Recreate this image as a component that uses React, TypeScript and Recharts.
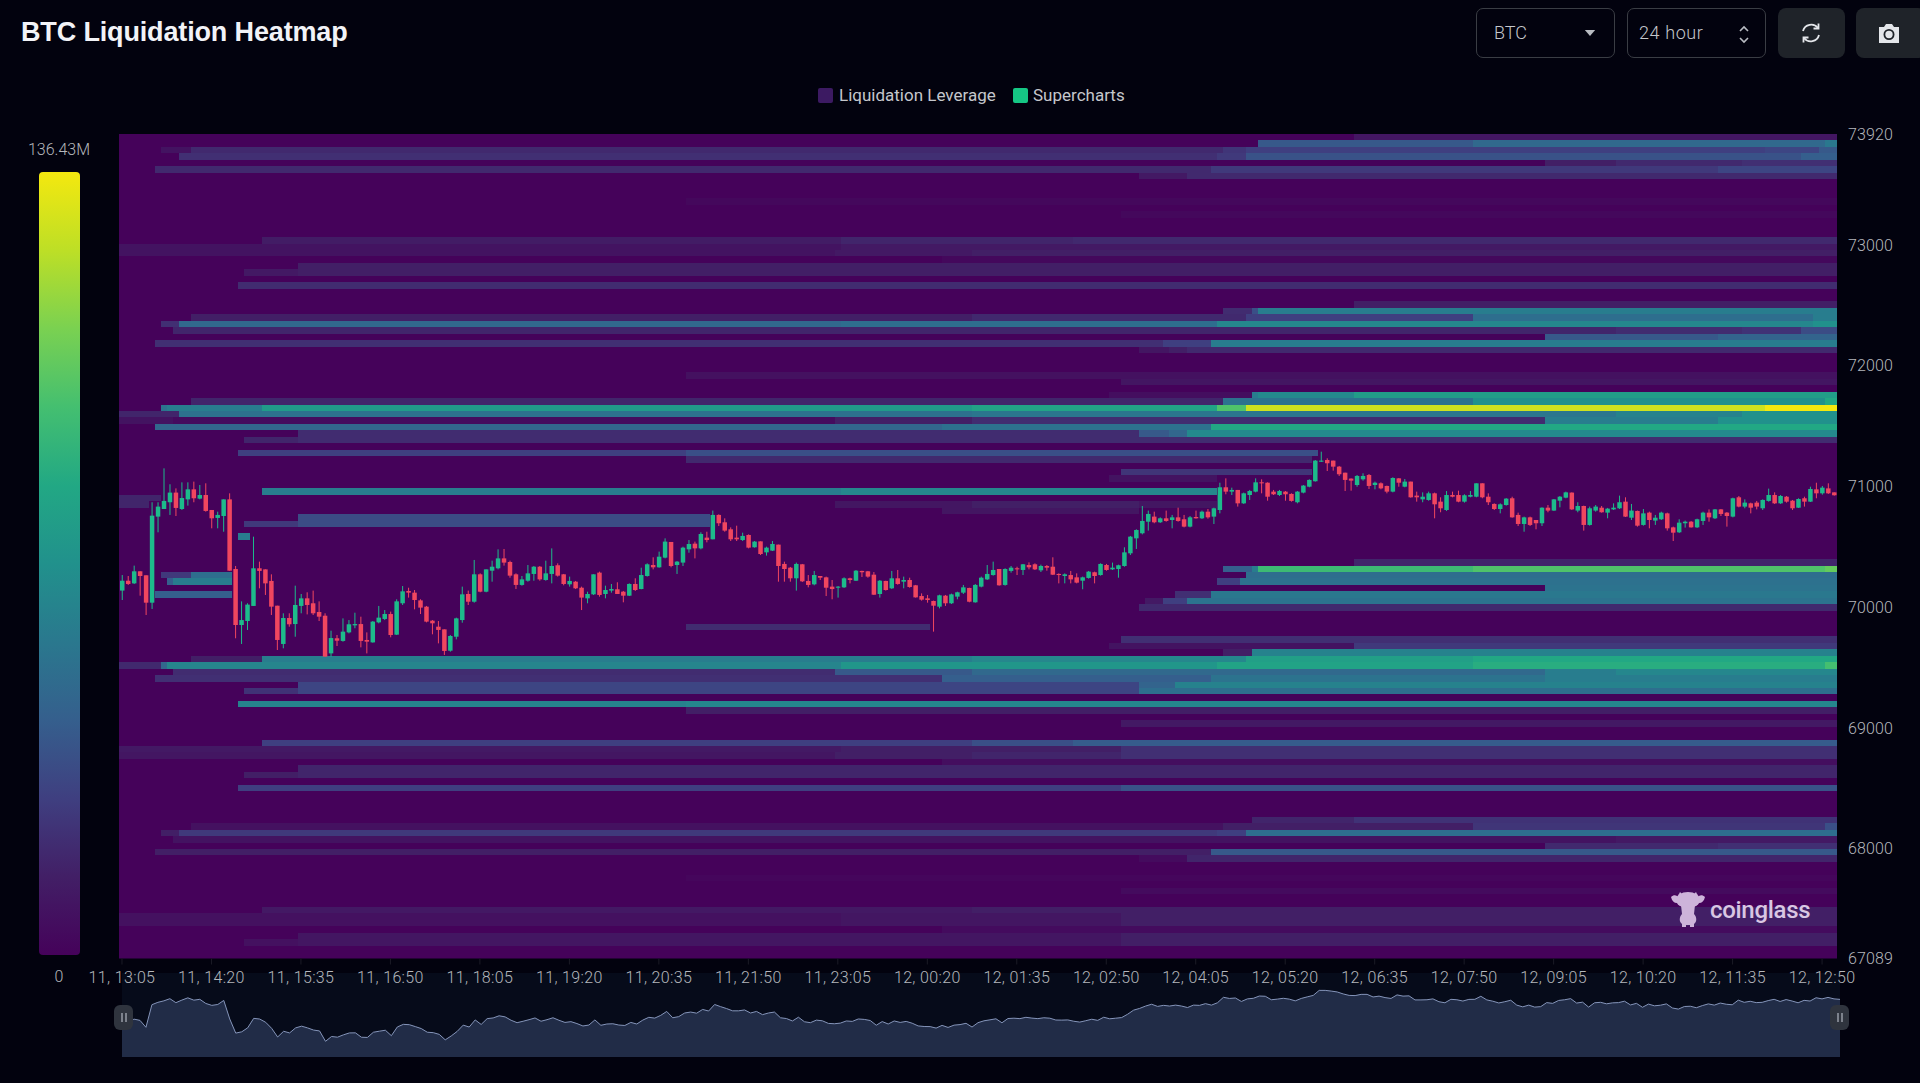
import React from 'react';
import { Area, AreaChart, Bar, ComposedChart, ReferenceArea, XAxis, YAxis } from 'recharts';

const timeLabels = [
  '11, 13:05', '11, 14:20', '11, 15:35', '11, 16:50', '11, 18:05', '11, 19:20', '11, 20:35',
  '11, 21:50', '11, 23:05', '12, 00:20', '12, 01:35', '12, 02:50', '12, 04:05', '12, 05:20',
  '12, 06:35', '12, 07:50', '12, 09:05', '12, 10:20', '12, 11:35', '12, 12:50',
];
const priceTicks = [67089, 68000, 69000, 70000, 71000, 72000, 73000, 73920];
const PRICE_MIN = 67089;
const PRICE_MAX = 73920;
const ROW_SIZE = 53.37;
const PEAK_LABEL = '136.43M';

const opens = [
  70137,70219,70197,70297,70264,70037,70750,70813,70869,70949,
  70813,70893,70976,70899,70929,70805,70739,70755,70893,70316,
  69852,69885,70010,70322,70313,70217,70012,69695,69910,69860,
  70010,70073,70032,69960,69929,69617,69742,69720,69791,69849,
  69860,69728,69708,69874,69902,69943,69772,70032,70134,70120,
  70056,70004,69888,69838,69816,69639,69755,69893,70109,70045,
  70272,70128,70302,70322,70404,70374,70272,70184,70219,70275,
  70335,70225,70275,70347,70272,70189,70211,70161,70073,70106,
  70286,70109,70137,70148,70128,70095,70192,70150,70258,70349,
  70330,70410,70540,70349,70369,70479,70526,70487,70576,70562,
  70764,70703,70645,70576,70556,70598,70496,70545,70454,70468,
  70518,70358,70327,70239,70355,70217,70189,70258,70247,70170,
  70161,70164,70239,70219,70300,70297,70269,70109,70217,70156,
  70239,70211,70225,70181,70092,70073,70051,70004,70095,70032,
  70087,70120,70159,70040,70170,70230,70266,70316,70184,70300,
  70322,70308,70349,70355,70305,70341,70335,70275,70258,70266,
  70247,70219,70242,70289,70266,70349,70313,70316,70341,70446,
  70570,70612,70708,70750,70703,70736,70722,70744,70728,70667,
  70747,70736,70791,70750,70805,70993,70957,70971,70860,70929,
  70957,71034,71031,70957,70929,70957,70938,70869,70949,70998,
  71043,71205,71219,71214,71164,71114,71065,71012,71059,71095,
  71012,71026,71004,70957,71067,70998,71040,70924,70893,70888,
  70943,70874,70805,70929,70929,70874,70915,70915,71026,70915,
  70855,70813,70846,70902,70764,70689,70744,70722,70695,70824,
  70800,70882,70907,70949,70800,70838,70681,70800,70824,70783,
  70810,70819,70874,70741,70797,70681,70783,70717,70728,70777,
  70661,70620,70695,70708,70661,70714,70783,70736,70810,70783,
  70750,70910,70833,70860,70866,70819,70880,70929,70860,70915,
  70882,70824,70902,70874,70976,70943,70984,70951,
];
const closes = [
  70219,70192,70297,70258,70037,70758,70833,70880,70949,70822,
  70904,70976,70902,70929,70797,70736,70764,70893,70302,69852,
  69893,70021,70322,70300,70197,70004,69728,69910,69858,70018,
  70073,70018,69949,69921,69590,69744,69722,69797,69858,69860,
  69720,69714,69880,69913,69943,69769,70048,70131,70120,70059,
  69996,69880,69866,69811,69637,69761,69907,70106,70045,70272,
  70128,70313,70335,70404,70369,70261,70184,70230,70280,70335,
  70230,70280,70341,70261,70192,70217,70156,70079,70109,70272,
  70101,70142,70150,70109,70095,70192,70142,70266,70355,70330,
  70418,70543,70341,70377,70493,70523,70487,70606,70556,70764,
  70695,70634,70562,70562,70590,70493,70543,70440,70493,70523,
  70341,70316,70239,70358,70214,70184,70266,70244,70161,70150,
  70170,70239,70225,70302,70289,70253,70103,70219,70142,70239,
  70192,70225,70167,70081,70062,70059,70012,70098,70032,70106,
  70123,70164,70045,70184,70244,70275,70308,70181,70316,70327,
  70313,70355,70330,70313,70341,70327,70269,70266,70272,70230,
  70203,70247,70294,70258,70358,70308,70327,70347,70454,70584,
  70639,70714,70772,70703,70736,70714,70744,70714,70667,70744,
  70736,70791,70744,70819,70993,70957,70971,70860,70943,70962,
  71034,71026,70915,70935,70962,70935,70880,70957,71007,71054,
  71214,71214,71192,71164,71101,71054,71048,71087,71087,71004,
  71031,70984,70957,71070,71031,71040,70910,70910,70915,70943,
  70852,70819,70929,70915,70874,70927,70929,71026,70910,70869,
  70813,70852,70899,70744,70689,70744,70681,70695,70824,70800,
  70893,70915,70951,70810,70838,70681,70819,70833,70786,70816,
  70824,70869,70750,70800,70675,70777,70722,70741,70783,70653,
  70617,70700,70708,70661,70728,70783,70744,70810,70772,70755,
  70902,70833,70866,70824,70833,70888,70929,70860,70921,70874,
  70819,70896,70874,70979,70943,70990,70943,70927,
];
const highs = [
  70266,70258,70344,70297,70264,70869,70869,71150,71018,70984,
  71034,71034,71040,71012,71026,70805,70791,70893,70943,70341,
  70048,70032,70584,70377,70313,70272,70012,69949,69949,70178,
  70109,70123,70137,70048,69949,69805,69769,69907,69893,69954,
  69921,69791,69885,70010,69976,69963,70065,70175,70161,70142,
  70065,70010,69893,69885,69816,69769,69913,70170,70137,70391,
  70280,70313,70385,70479,70482,70385,70280,70258,70349,70341,
  70341,70385,70487,70363,70275,70253,70217,70170,70128,70272,
  70294,70178,70192,70206,70134,70197,70239,70327,70363,70413,
  70460,70570,70540,70382,70501,70556,70543,70620,70625,70800,
  70769,70736,70661,70675,70617,70603,70548,70545,70501,70548,
  70518,70377,70333,70369,70358,70266,70300,70258,70253,70225,
  70175,70247,70244,70308,70302,70300,70291,70225,70219,70300,
  70308,70253,70244,70184,70114,70101,70054,70103,70101,70112,
  70128,70184,70161,70192,70253,70349,70377,70316,70322,70341,
  70335,70358,70371,70363,70352,70349,70413,70280,70280,70300,
  70280,70253,70300,70294,70363,70358,70369,70352,70496,70590,
  70645,70838,70800,70791,70744,70800,70764,70824,70764,70755,
  70800,70800,70813,70824,71031,71067,70990,70971,70949,70971,
  71067,71059,71034,70971,70971,70962,70943,70962,71012,71059,
  71219,71288,71233,71214,71170,71114,71067,71095,71109,71103,
  71040,71034,71007,71076,71070,71062,71040,70957,70951,70957,
  70949,70910,70962,70957,70965,70935,70962,71026,71026,70943,
  70860,70860,70904,70915,70783,70750,70750,70722,70827,70846,
  70896,70921,70957,70951,70869,70841,70833,70846,70838,70822,
  70860,70924,70910,70855,70800,70813,70791,70764,70791,70783,
  70667,70728,70717,70714,70733,70791,70810,70813,70813,70788,
  70907,70921,70893,70866,70880,70893,70982,70951,70929,70921,
  70888,70902,70915,70998,71031,71004,71026,70951,
];
const lows = [
  70059,70184,70192,70095,69935,69985,70620,70813,70764,70755,
  70805,70841,70869,70893,70791,70653,70653,70625,70302,69742,
  69695,69811,70010,70156,70101,69935,69645,69659,69838,69755,
  69949,69940,69935,69885,69590,69590,69678,69714,69783,69825,
  69667,69617,69706,69866,69893,69750,69769,70018,70079,69982,
  69943,69874,69775,69700,69604,69631,69733,69871,70018,70037,
  70123,70123,70211,70313,70344,70244,70150,70178,70211,70219,
  70219,70219,70197,70253,70181,70170,70150,69976,70032,70101,
  70087,70073,70120,70109,70040,70092,70134,70148,70253,70313,
  70327,70404,70330,70275,70341,70451,70404,70479,70537,70562,
  70672,70625,70548,70548,70548,70487,70493,70432,70427,70465,
  70211,70211,70211,70137,70208,70164,70181,70225,70092,70065,
  70079,70159,70197,70217,70250,70244,70101,70079,70137,70150,
  70186,70156,70161,70079,70054,70037,69797,69990,70010,70026,
  70065,70109,70040,70037,70164,70225,70261,70178,70178,70286,
  70266,70266,70313,70308,70291,70302,70266,70197,70197,70197,
  70197,70148,70236,70197,70261,70302,70308,70244,70335,70432,
  70482,70603,70634,70695,70697,70708,70653,70708,70661,70661,
  70733,70730,70733,70689,70777,70935,70929,70833,70855,70888,
  70951,70943,70882,70929,70921,70882,70874,70860,70943,70993,
  71040,71203,71128,71131,71087,70962,70965,70998,71048,70979,
  70976,70976,70943,70951,70998,70993,70907,70874,70869,70882,
  70736,70786,70797,70910,70869,70866,70910,70910,70902,70846,
  70805,70777,70841,70741,70672,70625,70672,70645,70672,70786,
  70797,70827,70902,70805,70786,70634,70675,70791,70783,70736,
  70805,70813,70747,70722,70667,70675,70653,70681,70722,70634,
  70548,70614,70659,70659,70656,70681,70708,70730,70755,70667,
  70744,70827,70819,70777,70810,70805,70874,70855,70855,70866,
  70805,70822,70833,70871,70902,70932,70938,70924,
];

// heat rows counted from the top: [row, candle where a step starts, share of peak, ...]; share 0 ends the band
type HeatRow = number[];
const upperBands: HeatRow[] = [
  [0, 207, 0.07],
  [1, 191, 0.28, 227, 0.34, 286, 0.4],
  [2, 7, 0.06, 12, 0.13, 185, 0.17, 189, 0.2, 276, 0.22, 285, 0.28],
  [3, 10, 0.15, 184, 0.18, 189, 0.26, 282, 0.3],
  [4, 239, 0.1, 251, 0.13, 272, 0.15],
  [5, 6, 0.13, 183, 0.18, 268, 0.22],
  [6, 171, 0.08, 179, 0.13],
  [10, 95, 0.02],
  [12, 168, 0.02],
  [16, 24, 0.09, 121, 0.12, 160, 0.13],
  [17, 0, 0.06, 121, 0.08],
  [18, 0, 0.06, 120, 0.08, 143, 0.1],
  [19, 138, 0.02],
  [20, 30, 0.1],
  [21, 21, 0.08, 30, 0.1],
  [23, 20, 0.14],
  [26, 207, 0.1],
  [27, 185, 0.14, 190, 0.25, 191, 0.42],
  [28, 12, 0.1, 143, 0.13, 189, 0.2, 227, 0.36, 284, 0.42],
  [29, 7, 0.15, 10, 0.34, 121, 0.36, 184, 0.46, 284, 0.5],
  [30, 9, 0.12, 251, 0.14, 272, 0.16, 282, 0.24],
  [31, 239, 0.28, 268, 0.32],
  [32, 6, 0.15, 175, 0.2, 183, 0.42],
  [33, 171, 0.07, 176, 0.1, 179, 0.13],
  [37, 95, 0.05],
  [38, 168, 0.07],
  [40, 166, 0.04, 190, 0.42, 191, 0.47, 207, 0.55],
  [41, 12, 0.12, 185, 0.38, 227, 0.5, 286, 0.6],
  [42, 7, 0.38, 8, 0.42, 24, 0.54, 143, 0.58, 184, 0.72, 189, 0.93, 276, 1],
  [43, 0, 0.12, 10, 0.37, 143, 0.39, 251, 0.44, 272, 0.5],
  [44, 0, 0.06, 9, 0.03, 120, 0.1, 143, 0.14, 239, 0.42, 268, 0.5],
  [45, 6, 0.33, 138, 0.37, 183, 0.6],
  [46, 30, 0.14, 171, 0.28, 176, 0.33, 179, 0.47],
  [47, 21, 0.12, 30, 0.14],
];
const middleBands: HeatRow[] = [
  [49, 20, 0.2, 95, 0.25, 201, 0],
  [50, 95, 0.13, 200, 0],
  [52, 168, 0.17, 200, 0],
  [53, 166, 0.06, 184, 0],
  [55, 24, 0.42, 121, 0.46, 184, 0],
  [56, 0, 0.12, 7, 0],
  [57, 0, 0.12, 5, 0, 120, 0.07, 143, 0.1, 171, 0.07, 184, 0],
  [58, 138, 0.07, 171, 0],
  [59, 30, 0.24, 99, 0],
  [60, 21, 0.18, 30, 0.24, 99, 0],
  [62, 20, 0.42, 22, 0],
  [66, 207, 0.12],
  [67, 185, 0.3, 190, 0.42, 191, 0.68, 227, 0.72, 286, 0.76],
  [68, 7, 0.18, 12, 0.36, 19, 0, 189, 0.36],
  [69, 8, 0.3, 9, 0.42, 19, 0, 184, 0.2, 188, 0.37],
  [70, 239, 0.38],
  [71, 6, 0.3, 19, 0, 177, 0.15, 183, 0.4],
  [72, 172, 0.08, 175, 0.2, 179, 0.38],
  [73, 171, 0.13],
  [76, 95, 0.14, 136, 0],
  [78, 168, 0.15],
  [79, 166, 0.06, 207, 0.18],
  [80, 185, 0.1, 190, 0.44],
  [81, 12, 0.1, 24, 0.42, 143, 0.46, 189, 0.56, 227, 0.6],
  [82, 0, 0.13, 7, 0.33, 8, 0.45, 121, 0.52, 184, 0.58, 227, 0.62, 286, 0.7],
  [83, 9, 0.14, 120, 0.28, 143, 0.34, 239, 0.42, 251, 0.46],
  [84, 6, 0.15, 138, 0.3, 183, 0.38, 239, 0.42],
  [85, 30, 0.22, 171, 0.32, 177, 0.44],
  [86, 21, 0.16, 30, 0.22, 171, 0.36],
  [88, 20, 0.44, 95, 0.46],
  [89, 95, 0.1],
];
const lowerBands: HeatRow[] = [
  [91, 168, 0.08],
  [94, 24, 0.2, 143, 0.25, 160, 0.29],
  [95, 0, 0.08, 121, 0.1, 168, 0.15],
  [96, 0, 0.07, 120, 0.1, 143, 0.12, 168, 0.15],
  [97, 138, 0.04],
  [98, 30, 0.12],
  [99, 21, 0.1, 30, 0.12],
  [101, 20, 0.2, 168, 0.26],
  [106, 190, 0.12, 207, 0.16],
  [107, 12, 0.05, 185, 0.1, 227, 0.17, 286, 0.25],
  [108, 7, 0.1, 10, 0.18, 184, 0.2, 189, 0.36],
  [109, 9, 0.06, 251, 0.08],
  [110, 239, 0.13, 268, 0.15],
  [111, 6, 0.1, 183, 0.28],
  [112, 171, 0.03, 179, 0.12],
  [115, 95, 0.015],
  [117, 168, 0.03],
  [120, 24, 0.08, 143, 0.1],
  [121, 0, 0.05, 121, 0.07, 168, 0.1],
  [122, 0, 0.05, 121, 0.07, 168, 0.1],
  [123, 138, 0.03],
  [124, 30, 0.07, 168, 0.1],
  [125, 21, 0.05, 30, 0.07, 168, 0.1],
  [127, 20, 0.13],
];

const viridis = ['#45025a', '#421f66', '#3f3f80', '#355f8d', '#2a788e', '#21918c', '#22a884', '#44bf70', '#7ad151', '#bddf26', '#f4e80f'];
const UP = '#1dbb8b';
const DOWN = '#f0465f';
const TEXT = '#b4b7bc';
const FONT = 'Roboto, sans-serif';

function heatColor(share: number) {
  const pos = share * (viridis.length - 1);
  const i = Math.min(Math.floor(pos), viridis.length - 2);
  const mix = pos - i;
  const a = viridis[i];
  const b = viridis[i + 1];
  const ch = (s: string, k: number) => parseInt(s.slice(1 + k * 2, 3 + k * 2), 16);
  const c = [0, 1, 2].map((k) => Math.round(ch(a, k) + (ch(b, k) - ch(a, k)) * mix));
  return `rgb(${c[0]},${c[1]},${c[2]})`;
}

const candleData = opens.map((open, i) => ({
  i,
  open,
  close: closes[i],
  high: highs[i],
  low: lows[i],
  range: [lows[i], highs[i]],
}));

const xTicks = timeLabels.map((_, i) => i * 15);
const rowTicks = [4, 8, 12, 16, 20, 24, 28, 32, 36, 40, 44, 48, 52, 56, 60, 64, 68, 72, 76, 80, 84, 88, 92, 96, 100, 104, 108, 112, 116, 120, 124].map(
  (r) => PRICE_MAX - r * ROW_SIZE,
);

const heatCells = [...upperBands, ...middleBands, ...lowerBands].flatMap((band) => {
  const top = PRICE_MAX - band[0] * ROW_SIZE;
  const cells = [];
  for (let k = 1; k < band.length; k += 2) {
    if (band[k + 1] === 0) continue;
    const end = k + 2 < band.length ? band[k + 2] : 288;
    cells.push({ key: `${band[0]}-${band[k]}`, x1: band[k] - 0.5, x2: end - 0.5, y1: top - ROW_SIZE, y2: top, fill: heatColor(band[k + 1]) });
  }
  return cells;
});

function Candle(props: any) {
  const { x, y, width, height, payload } = props;
  const up = payload.close >= payload.open;
  const color = up ? UP : DOWN;
  const span = payload.high - payload.low || 1;
  const yAt = (v: number) => y + ((payload.high - v) / span) * height;
  const top = yAt(Math.max(payload.open, payload.close));
  const bottom = yAt(Math.min(payload.open, payload.close));
  return (
    <g>
      <rect x={x + width / 2 - 0.5} y={y} width={1} height={height} fill={color} />
      <rect x={x} y={top} width={width} height={Math.max(bottom - top, 1)} fill={color} />
    </g>
  );
}

const abs = (left: number, top: number, width: number, height: number): React.CSSProperties => ({
  position: 'absolute',
  left,
  top,
  width,
  height,
});

function Select({ left, label, pad, spacing, children }: { left: number; label: string; pad: number; spacing: number; children: React.ReactNode }) {
  return (
    <div style={{ ...abs(left, 8, 139, 50), boxSizing: 'border-box', border: '1px solid #3a3d44', borderRadius: 7, color: '#c5c7cc', fontSize: 18, lineHeight: '48px', paddingLeft: pad, letterSpacing: spacing, fontWeight: 300 }}>
      {label}
      {children}
    </div>
  );
}

function Handle({ left }: { left: number }) {
  return (
    <div style={{ ...abs(left, 1005, 19, 25), background: '#2f343e', borderRadius: 6, display: 'flex', justifyContent: 'center', alignItems: 'center', gap: 2 }}>
      <div style={{ width: 2, height: 9, background: '#7d828c' }} />
      <div style={{ width: 2, height: 9, background: '#7d828c' }} />
    </div>
  );
}

export default function App() {
  return (
    <div style={{ position: 'fixed', left: 0, top: 0, width: 1920, height: 1083, background: '#02020e', overflow: 'hidden', fontFamily: FONT }}>
      <div style={{ ...abs(21, 12, 400, 40), fontFamily: '"Liberation Sans", Arial, sans-serif', fontWeight: 700, fontSize: 27, lineHeight: '40px', letterSpacing: -0.15, color: '#f2f3f7' }}>
        BTC Liquidation Heatmap
      </div>

      <Select left={1476} label="BTC" pad={17} spacing={0}>
        <svg style={abs(107, 21, 12, 7)} viewBox="0 0 14 8">
          <path d="M1 0 H13 L7 7 Z" fill="#b9bcc2" />
        </svg>
      </Select>
      <Select left={1627} label="24 hour" pad={11} spacing={0.6}>
        <svg style={abs(110, 16, 12, 19)} viewBox="0 0 12 19" fill="none" stroke="#b9bcc2" strokeWidth="1.6">
          <path d="M2 6 L6 2 L10 6 M2 13 L6 17 L10 13" />
        </svg>
      </Select>
      <div style={{ ...abs(1778, 8, 67, 50), background: '#1f2329', borderRadius: 8 }}>
        <svg style={abs(21, 13, 24, 24)} viewBox="0 0 24 24" fill="none" stroke="#e4e6ea" strokeWidth="1.8">
          <path d="M4 10 A8.5 8.5 0 0 1 19 7 M20 14 A8.5 8.5 0 0 1 5 17" />
          <path d="M19.5 2.5 V7.5 H14.5 M4.5 21.5 V16.5 H9.5" />
        </svg>
      </div>
      <div style={{ ...abs(1856, 8, 70, 50), background: '#1f2329', borderRadius: 8 }}>
        <svg style={abs(21, 13, 24, 24)} viewBox="0 0 24 24">
          <path d="M2 6 H7 L9 3 H15 L17 6 H22 V22 H2 Z" fill="#e4e6ea" />
          <circle cx="12" cy="13.5" r="4.6" fill="none" stroke="#1f2329" strokeWidth="1.8" />
        </svg>
      </div>

      <div style={{ ...abs(818, 86, 320, 20), color: '#c5c7cc', fontSize: 17, lineHeight: '19px' }}>
        <div style={{ ...abs(0, 2, 15, 15), background: '#3c1a62', borderRadius: 2 }} />
        <div style={{ ...abs(21, 0, 170, 19) }}>Liquidation Leverage</div>
        <div style={{ ...abs(195, 2, 15, 15), background: '#15c784', borderRadius: 2 }} />
        <div style={{ ...abs(215, 0, 100, 19) }}>Supercharts</div>
      </div>

      <div style={{ ...abs(9, 140, 100, 20), textAlign: 'center', color: TEXT, fontSize: 16, fontWeight: 300 }}>{PEAK_LABEL}</div>
      <div
        style={{
          ...abs(39, 172, 41, 783),
          borderRadius: 4,
          background: `linear-gradient(to top, ${viridis.join(',')})`,
        }}
      />
      <div style={{ ...abs(9, 967, 100, 20), textAlign: 'center', color: TEXT, fontSize: 16, fontWeight: 300 }}>0</div>

      <div style={{ ...abs(122, 973, 1718, 84), background: '#060b1a' }}>
        <AreaChart width={1718} height={84} data={candleData} margin={{ top: 0, right: 0, bottom: 0, left: 0 }}>
          <XAxis dataKey="i" hide />
          <YAxis hide domain={[69090, 71768]} allowDataOverflow />
          <Area type="linear" dataKey="close" stroke="#8595ba" strokeWidth={1} fill="#212c47" fillOpacity={1} isAnimationActive={false} dot={false} activeDot={false} />
        </AreaChart>
      </div>
      <Handle left={114} />
      <Handle left={1830} />

      <div style={abs(0, 0, 1920, 1000)}>
        <ComposedChart width={1920} height={1000} data={candleData} margin={{ top: 134, right: 0, bottom: 0, left: 0 }}>
          <XAxis
            dataKey="i"
            type="number"
            domain={[-0.5, 287.5]}
            allowDataOverflow
            ticks={xTicks}
            interval={0}
            height={41.5}
            axisLine={false}
            tickLine={{ stroke: '#1b1b26' }}
            tickSize={6}
            tickMargin={7}
            tick={{ fill: TEXT, fontSize: 16, fontWeight: 300, fontFamily: FONT, letterSpacing: 0.35 }}
            tickFormatter={(v: number) => timeLabels[v / 15]}
          />
          <YAxis
            yAxisId="rows"
            orientation="left"
            width={119}
            type="number"
            domain={[PRICE_MIN, PRICE_MAX]}
            allowDataOverflow
            ticks={rowTicks}
            interval={0}
            axisLine={false}
            tickLine={{ stroke: '#1b1b26' }}
            tickSize={7}
            tick={false}
          />
          <YAxis
            yAxisId="price"
            orientation="right"
            width={83}
            type="number"
            domain={[PRICE_MIN, PRICE_MAX]}
            allowDataOverflow
            ticks={priceTicks}
            interval={0}
            axisLine={false}
            tickLine={false}
            tickSize={0}
            tickMargin={11}
            tick={{ fill: TEXT, fontSize: 16, fontWeight: 300, fontFamily: FONT, textAnchor: 'start', letterSpacing: 0.1 }}
          />
          <ReferenceArea yAxisId="price" x1={-0.5} x2={287.5} y1={PRICE_MIN} y2={PRICE_MAX} fill={viridis[0]} fillOpacity={1} stroke="none" />
          {heatCells.map((c) => (
            <ReferenceArea
              key={c.key}
              yAxisId="price"
              x1={c.x1}
              x2={c.x2}
              y1={c.y1}
              y2={c.y2}
              fill={c.fill}
              fillOpacity={1}
              stroke="none"
              shapeRendering="crispEdges"
            />
          ))}
          <Bar yAxisId="price" dataKey="range" barSize={4.5} shape={Candle} isAnimationActive={false} />
        </ComposedChart>
      </div>

      <svg style={abs(1671, 891, 34, 37)} viewBox="0 0 34 37" fill="#cdb4da">
        <ellipse cx="17" cy="9" rx="12" ry="8" />
        <path d="M0 6 C3 3 6 4 8 7 L6 12 C3 12 1 10 0 6 Z M34 6 C31 3 28 4 26 7 L28 12 C31 12 33 10 34 6 Z" />
        <path d="M9 1 L12 4 L7 5 Z M25 1 L22 4 L27 5 Z" />
        <path d="M10 14 H24 L23 23 C26 26 26 31 23 33 L23 36 H19 L19 34 H15 L15 36 H11 L11 33 C8 31 8 26 11 23 Z" />
      </svg>
      <div style={{ ...abs(1710, 893, 110, 34), color: '#d9c6e3', fontSize: 24, lineHeight: '34px', fontWeight: 500, letterSpacing: -0.3 }}>coinglass</div>
    </div>
  );
}
